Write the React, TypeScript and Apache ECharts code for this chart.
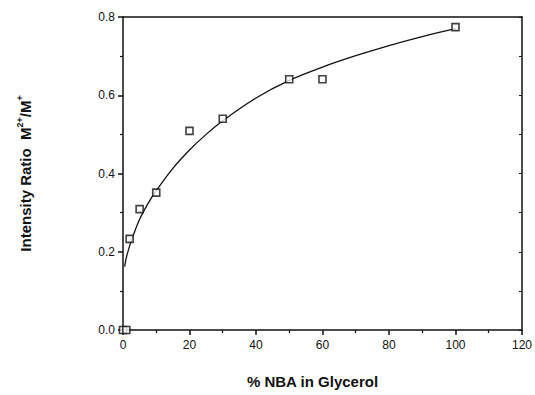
import React, { useEffect, useRef } from "react";
import * as echarts from "echarts";

const xTicks = [0, 20, 40, 60, 80, 100, 120];
const yTicks = [0.0, 0.2, 0.4, 0.6, 0.8];

const pointX = [0, 1, 2, 5, 10, 20, 30, 50, 60, 100];
const pointY = [0, 0, 0.233, 0.309, 0.351, 0.509, 0.54, 0.641, 0.641, 0.774];

const curveX = [0.5, 1, 2, 3, 5, 7.5, 10, 15, 20, 25, 30, 40, 50, 60, 70, 80, 90, 100];
const curveY = [0.162, 0.185, 0.215, 0.24, 0.283, 0.323, 0.356, 0.413, 0.46, 0.5, 0.535, 0.593, 0.638, 0.672, 0.701, 0.727, 0.75, 0.77];

const FONT = "'Liberation Sans', Arial, Helvetica, sans-serif";

export default function App() {
  const ref = useRef<HTMLDivElement>(null);
  useEffect(() => {
    if (!ref.current) return;
    const chart = echarts.init(ref.current, null, { renderer: "svg" });
    const axisLine = { show: true, onZero: false, lineStyle: { color: "#111", width: 1.5 } };
    chart.setOption({
      animation: false,
      backgroundColor: "#fff",
      grid: { left: 123, right: 12, top: 17, bottom: 65, containLabel: false },
      xAxis: [
        {
          type: "value",
          min: 0,
          max: 120,
          interval: 20,
          position: "bottom",
          axisLine,
          axisTick: { show: true, length: 5, lineStyle: { color: "#111", width: 1.5 } },
          minorTick: { show: true, splitNumber: 2, length: 3, lineStyle: { color: "#111", width: 1.2 } },
          splitLine: { show: false },
          axisLabel: {
            color: "#111",
            fontFamily: FONT,
            fontSize: 12,
            margin: 9,
            formatter: (v: number) => (xTicks.includes(v) ? String(v) : ""),
          },
          name: "% NBA in Glycerol",
          nameLocation: "middle",
          nameGap: 44,
          nameTextStyle: { color: "#111", fontFamily: FONT, fontSize: 15, fontWeight: "bold", padding: [0, 20, 0, 0] },
        },
        {
          type: "value",
          min: 0,
          max: 120,
          interval: 20,
          position: "top",
          axisLine,
          axisTick: { show: false },
          axisLabel: { show: false },
          splitLine: { show: false },
        },
      ],
      yAxis: [
        {
          type: "value",
          min: 0,
          max: 0.8,
          interval: 0.2,
          position: "left",
          axisLine,
          axisTick: { show: true, length: 5, lineStyle: { color: "#111", width: 1.5 } },
          minorTick: { show: true, splitNumber: 2, length: 3, lineStyle: { color: "#111", width: 1.2 } },
          splitLine: { show: false },
          axisLabel: {
            color: "#111",
            fontFamily: FONT,
            fontSize: 12,
            margin: 8,
            formatter: (v: number) => (yTicks.some((t) => Math.abs(t - v) < 1e-9) ? v.toFixed(1) : ""),
          },
          name: "{a|Intensity Ratio  M}{s|2+}{a|/M}{s|+}",
          nameLocation: "middle",
          nameRotate: 90,
          nameGap: 88,
          nameTextStyle: {
            color: "#111",
            rich: {
              a: { fontFamily: FONT, fontSize: 15, fontWeight: "bold", color: "#111", lineHeight: 20 },
              s: { fontFamily: FONT, fontSize: 9, fontWeight: "bold", color: "#111", verticalAlign: "top", lineHeight: 20, padding: [0, 0, 8, 0] },
            },
          },
        },
        {
          type: "value",
          min: 0,
          max: 0.8,
          interval: 0.1,
          position: "right",
          axisLine,
          axisTick: { show: true, inside: true, length: 3, lineStyle: { color: "#111", width: 1 } },
          axisLabel: { show: false },
          splitLine: { show: false },
        },
      ],
      series: [
        {
          type: "line",
          data: curveX.map((x, i) => [x, curveY[i]]),
          smooth: 0.3,
          showSymbol: false,
          symbol: "none",
          lineStyle: { color: "#111", width: 1.3 },
          z: 2,
        },
        {
          type: "scatter",
          data: pointX.map((x, i) => [x, pointY[i]]),
          symbol: "rect",
          symbolSize: 7,
          itemStyle: { color: "#fff", borderColor: "#111", borderWidth: 1.6 },
          z: 3,
        },
      ],
    });
    return () => chart.dispose();
  }, []);
  return <div ref={ref} style={{ width: 535, height: 395, position: "absolute", left: 0, top: 0 }} />;
}
